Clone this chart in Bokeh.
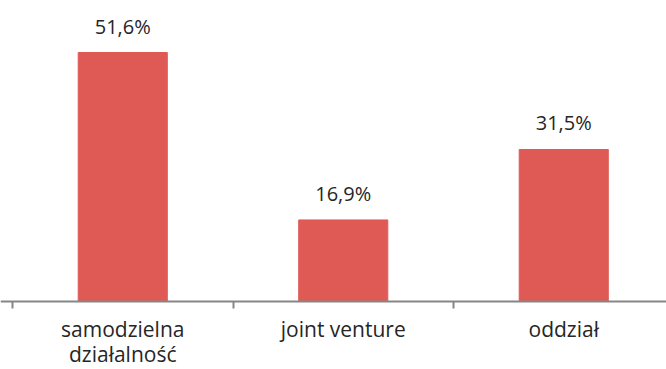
from bokeh.plotting import figure
from bokeh.models import Range1d, FixedTicker, ColumnDataSource
from bokeh.embed import file_html
from bokeh.resources import INLINE
from bokeh.core.properties import value

categories = ["samodzielna\ndziałalność", "joint venture", "oddział"]
values = [51.6, 16.9, 31.5]
value_labels = ["51,6%", "16,9%", "31,5%"]

xpos = [i + 0.5 for i in range(len(categories))]
src = ColumnDataSource(dict(x=xpos, top=values, lbl=value_labels))

PX_PER_UNIT = 249 / 51.6
p = figure(width=666, height=369, output_backend="svg", toolbar_location=None,
           x_range=Range1d(-12/220.5, (666-12)/220.5),
           y_range=Range1d(-68 / PX_PER_UNIT, 301 / PX_PER_UNIT),
           min_border_left=0, min_border_right=0, min_border_top=0, min_border_bottom=0)
p.outline_line_color = None
p.grid.grid_line_color = None
p.yaxis.visible = False

p.vbar(x="x", top="top", width=0.404, source=src, color="#E05A55")
p.text(x="x", y="top", text="lbl", source=src, text_align="center", text_baseline="bottom",
       y_offset=-13, text_font=value("Open Sans"), text_font_size="20px", text_color="#262626")

ax = p.xaxis[0]
ax.fixed_location = 0
ax.ticker = FixedTicker(ticks=xpos, minor_ticks=[0, 1, 2, 3])
ax.major_label_overrides = {x: c for x, c in zip(xpos, categories)}
ax.major_tick_line_color = None
ax.minor_tick_line_color = "#868686"
ax.minor_tick_line_width = 2
ax.minor_tick_out = 7
ax.minor_tick_in = 0
ax.axis_line_color = "#868686"
ax.axis_line_width = 2
ax.major_label_text_font = "Open Sans"
ax.major_label_text_font_size = "21px"
ax.major_label_text_color = "#262626"
ax.major_label_text_line_height = 0.9
ax.major_label_standoff = 6

open("out.html", "w").write(file_html(p, INLINE))
